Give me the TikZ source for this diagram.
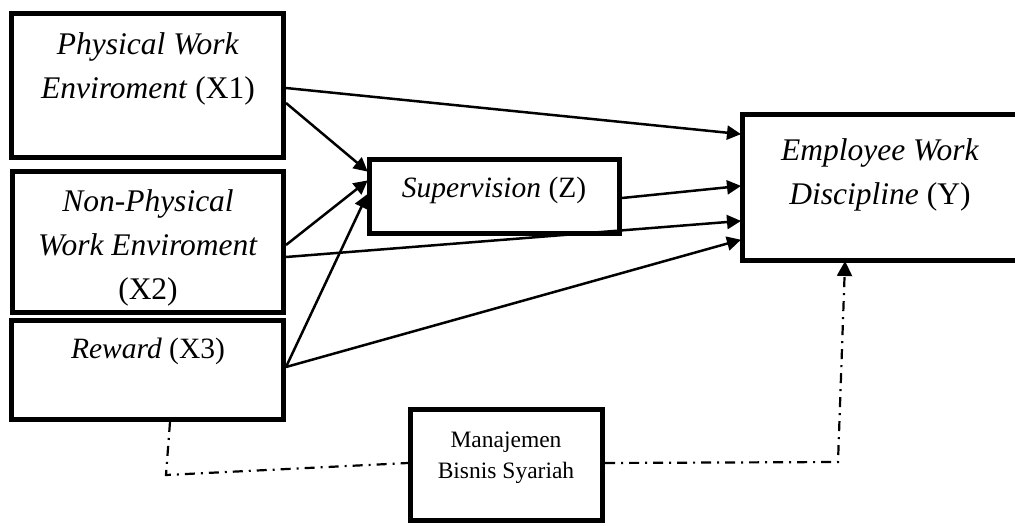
\documentclass[tikz,border=0pt]{standalone}
\usepackage{fontspec}
\setmainfont{Liberation Serif}
\usetikzlibrary{arrows.meta}
\begin{document}
\begin{tikzpicture}[x=1pt,y=-1pt,
  box/.style={draw,line width=5pt,inner sep=0pt,minimum width=#1},
  lbl/.style={font=\fontsize{31.5}{44}\selectfont,align=center,anchor=base,inner sep=0pt},
  lbls/.style={font=\fontsize{29.5}{43}\selectfont,align=center,anchor=base,inner sep=0pt},
  small/.style={font=\fontsize{23.5}{31}\selectfont,align=center,anchor=base,inner sep=0pt},
  arr/.style={line width=2.5pt,-{Triangle[length=14pt,width=14pt]},shorten >=-1pt},
  dd/.style={line width=2.2pt,dash pattern=on 10pt off 6pt on 2pt off 6pt}]
\useasboundingbox (0,0) rectangle (1015,525);
% boxes
\node[box=272pt,minimum height=144pt] (x1) at (147.5,85.5) {};
\node[box=271pt,minimum height=141pt] (x2) at (148,242) {};
\node[box=272pt,minimum height=99pt] (x3) at (147.5,370) {};
\node[box=250pt,minimum height=74pt] (z) at (494.5,196.5) {};
\node[box=275pt,minimum height=146pt] (y) at (880,187.5) {};
\node[box=192pt,minimum height=111pt] (m) at (506.5,465) {};
% texts
\node[lbl] (tx1) at (148,98) {\textit{Physical Work}\\\textit{Enviroment} (X1)};
\node[lbl] (tx2) at (148,299) {\textit{Non-Physical}\\\textit{Work Enviroment}\\(X2)};
\node[lbls] (tx3) at (148,358) {\textit{Reward} (X3)};
\node[lbls] (tz) at (494,197) {\textit{Supervision} (Z)};
\node[lbl] (ty) at (880,204) {\textit{Employee Work}\\\textit{Discipline} (Y)};
\node[small] (tm) at (506,478) {Manajemen\\Bisnis Syariah};
% arrows
\draw[arr] (x1.east |- 0,88) -- (y.west |- 0,134);
\draw[arr] (x1.east |- 0,103) -- (z.west |- 0,171);
\draw[arr] (x2.east |- 0,245) -- (z.west |- 0,181);
\draw[arr] (x2.east |- 0,257) -- (y.west |- 0,221);
\draw[arr] (x3.east |- 0,367) -- (z.west |- 0,195);
\draw[arr] (x3.east |- 0,367) -- (y.west |- 0,240);
\draw[arr] (z.east |- 0,198) -- (y.west |- 0,186);
% dash-dot links
\coordinate (c1) at (166,475);
\coordinate (c2) at (838,462);
\draw[dd] (x3.south -| 170,0) -- (c1) -- (m.west |- 0,463);
\draw[dd,-{Triangle[length=15pt,width=15pt]},shorten >=-2pt] (m.east |- 0,463) -- (c2) -- (y.south -| 845,0);
\end{tikzpicture}
\end{document}
